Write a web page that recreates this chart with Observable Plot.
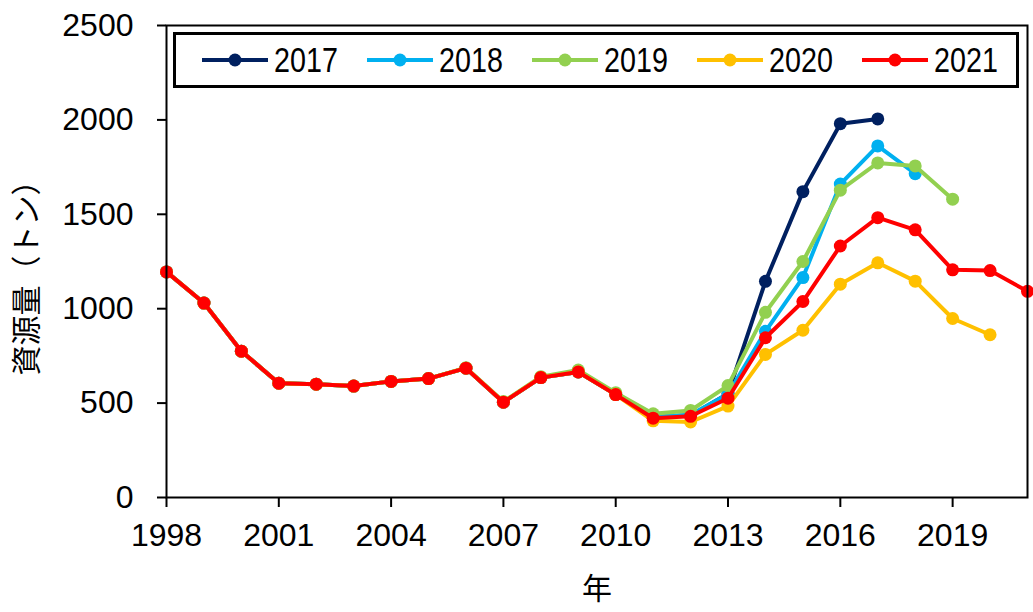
<!DOCTYPE html>
<html><head><meta charset="utf-8">
<script src="https://cdn.jsdelivr.net/npm/d3@7"></script>
<script src="https://cdn.jsdelivr.net/npm/@observablehq/plot@0.6"></script>
<style>
body{margin:0;background:#fff;}
#wrap{position:relative;width:1033px;height:612px;overflow:hidden;background:#fff;}
#legend{position:absolute;left:173px;top:32px;width:846px;height:56px;border:3px solid #000;box-sizing:border-box;display:flex;align-items:center;padding-left:26px;background:#fff;}
.item{display:flex;align-items:center;width:165px;font-family:"Liberation Sans",Arial,sans-serif;font-size:35px;color:#000;flex:none;}
.item svg{margin-right:6px;flex:none;}
.item span{display:inline-block;transform:scaleX(0.82);transform-origin:0 50%;}
</style></head>
<body>
<div id="wrap"></div>
<script>
// Years (x categories)
const years = [1998,1999,2000,2001,2002,2003,2004,2005,2006,2007,2008,2009,2010,2011,2012,2013,2014,2015,2016,2017,2018,2019,2020,2021];
const xTicks = [1998,2001,2004,2007,2010,2013,2016,2019];
const yTicks = [0,500,1000,1500,2000,2500];
const vintages = ["2017","2018","2019","2020","2021"];
const colors = ["#002060","#00B0F0","#92D050","#FFC000","#FF0000"];

// Resource estimates (tonnes) by assessment vintage
const v2017 = [1195,1030,775,605,600,590,615,630,685,505,635,665,545,425,435,550,1145,1620,1980,2005];
const v2018 = [1195,1030,775,605,600,590,615,630,685,505,635,665,548,428,438,548,880,1165,1660,1862,1715];
const v2019 = [1195,1030,775,605,600,590,615,630,687,508,640,675,555,443,461,593,981,1250,1628,1772,1756,1580];
const v2020 = [1195,1030,775,605,600,590,615,630,685,505,635,665,545,406,400,484,758,886,1130,1243,1146,948,862];
const v2021 = [1195,1030,775,605,600,590,615,630,685,505,635,665,545,420,430,526,846,1038,1332,1482,1418,1206,1202,1092];

const series = [v2017, v2018, v2019, v2020, v2021];
const tables = series.map((vals, k) => vals.map((v, i) => ({year: years[i], value: v, vintage: vintages[k]})));

const marks = [];
tables.forEach(t => {
  marks.push(Plot.line(t, {x: "year", y: "value", stroke: "vintage", strokeWidth: 4}));
  marks.push(Plot.dot(t, {x: "year", y: "value", fill: "vintage", r: 6.5}));
});

const chart = Plot.plot({
  width: 1033,
  height: 612,
  marginLeft: 166,
  marginRight: 6,
  marginTop: 25,
  marginBottom: 115,
  style: {fontSize: "32px", fontFamily: "'Liberation Sans', Arial, sans-serif", color: "#000", background: "#fff"},
  x: {domain: [1998, 2021]},
  y: {domain: [0, 2500]},
  color: {domain: vintages, range: colors},
  marks: [
    ...marks,
    Plot.frame({stroke: "#000", strokeWidth: 2}),
    Plot.axisX({ticks: xTicks, tickFormat: d => String(d), tickSize: 10, tickPadding: 16, label: null, strokeWidth: 2}),
    Plot.axisY({ticks: yTicks, tickFormat: d => String(d), tickSize: 9, tickPadding: 24, label: null, strokeWidth: 2}),
    Plot.text(["資源量（トン）"], {frameAnchor: "left", textAnchor: "middle", lineAnchor: "middle", dx: -139, dy: 9, rotate: -90, fontSize: 30, fontFamily: "'Noto Sans CJK JP', sans-serif", fill: "#000"}),
    Plot.text(["年"], {frameAnchor: "bottom", lineAnchor: "middle", dy: 92, fontSize: 30, fontFamily: "'Noto Sans CJK JP', sans-serif", fill: "#000"})
  ]
});

const wrap = document.getElementById("wrap");
wrap.appendChild(chart);

// Legend overlay
const legend = document.createElement("div");
legend.id = "legend";
vintages.forEach((v, k) => {
  const item = document.createElement("div");
  item.className = "item";
  item.innerHTML = `<svg width="66" height="20"><line x1="0" y1="10" x2="66" y2="10" stroke="${colors[k]}" stroke-width="4"/><circle cx="33" cy="10" r="6.5" fill="${colors[k]}"/></svg><span>${v}</span>`;
  legend.appendChild(item);
});
wrap.appendChild(legend);
</script>
</body></html>
